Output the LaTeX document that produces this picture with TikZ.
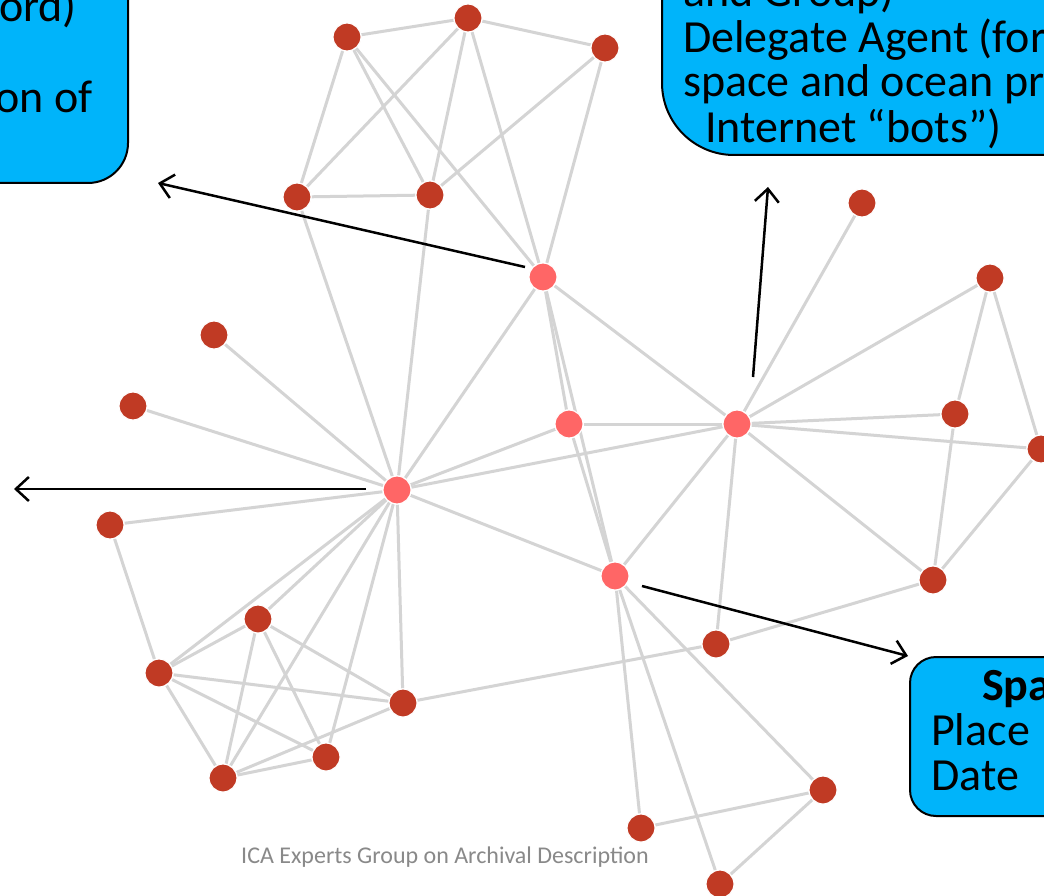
\documentclass[tikz,border=0pt]{standalone}
\usepackage{fontspec}
\setmainfont{Carlito}
\usetikzlibrary{arrows.meta}
\definecolor{nodedark}{RGB}{192,58,36}
\definecolor{nodelight}{RGB}{255,102,102}
\definecolor{edgegray}{RGB}{212,212,212}
\definecolor{boxblue}{RGB}{0,180,250}
\definecolor{footgray}{RGB}{137,137,137}
\tikzset{
  dk/.style={circle, fill=nodedark, draw=white, line width=1.2pt, minimum size=28pt, inner sep=0pt},
  lt/.style={circle, fill=nodelight, draw=white, line width=1.2pt, minimum size=28pt, inner sep=0pt},
  edge/.style={draw=edgegray, line width=3pt},
  pointer/.style={draw=black, line width=2.5pt, -{Straight Barb[length=13pt,width=24pt,line width=2.5pt]}},
  bluebox/.style={fill=boxblue, draw=black, line width=2pt},
  boxtext/.style={font=\fontsize{46}{48}\selectfont, inner sep=0pt},
}
\begin{document}
\begin{tikzpicture}[x=1pt,y=-1pt]
\useasboundingbox (0,0) rectangle (1044,896);
\clip (0,0) rectangle (1044,896);
\fill[white] (0,0) rectangle (1044,896);

% nodes
\node[dk] (A1) at (347,37) {};
\node[dk] (A2) at (468,18) {};
\node[dk] (A3) at (605,48) {};
\node[dk] (A4) at (297,197) {};
\node[dk] (A5) at (430,195) {};
\node[dk] (D1) at (862,203) {};
\node[dk] (D2) at (990,278) {};
\node[dk] (D3) at (955,414) {};
\node[dk] (D4) at (1041,449) {};
\node[dk] (D5) at (933,580) {};
\node[dk] (D6) at (716,644) {};
\node[dk] (L1) at (214,335) {};
\node[dk] (L2) at (133,406) {};
\node[dk] (L3) at (110,525) {};
\node[dk] (B1) at (258,619) {};
\node[dk] (B2) at (159,673) {};
\node[dk] (B3) at (403,703) {};
\node[dk] (B4) at (326,757) {};
\node[dk] (B5) at (223,778) {};
\node[dk] (S1) at (641,828) {};
\node[dk] (S2) at (823,790) {};
\node[dk] (S3) at (720,884) {};
\node[lt] (H1) at (543,277) {};
\node[lt] (H2) at (569,424) {};
\node[lt] (H3) at (737,424) {};
\node[lt] (H4) at (397,490) {};
\node[lt] (H5) at (615,576) {};

% edges
\foreach \a/\b in {A1/A2,A2/A3,A1/A4,A1/A5,A1/H1,A2/A4,A2/A5,A2/H1,A3/A5,A3/H1,A4/A5,A4/H4,A5/H4,
  H1/H4,H1/H2,H1/H5,H1/H3,H2/H5,H2/H3,H2/H4,H3/H4,H3/H5,H4/H5,
  H3/D1,H3/D2,H3/D3,H3/D4,H3/D5,H3/D6,D2/D3,D2/D4,D3/D5,D4/D5,D5/D6,D6/B3,
  H5/S1,H5/S2,H5/S3,S1/S2,S2/S3,
  H4/L1,H4/L2,H4/L3,L3/B2,
  H4/B1,H4/B2,H4/B3,H4/B4,H4/B5,
  B1/B2,B1/B3,B1/B4,B1/B5,B2/B3,B2/B4,B2/B5,B3/B5,B4/B5}
  \draw[edge] (\a) -- (\b);

% redraw nodes on top of edges
\foreach \n/\s/\x/\y in {A1/dk/347/37,A2/dk/468/18,A3/dk/605/48,A4/dk/297/197,A5/dk/430/195,
  D1/dk/862/203,D2/dk/990/278,D3/dk/955/414,D4/dk/1041/449,D5/dk/933/580,D6/dk/716/644,
  L1/dk/214/335,L2/dk/133/406,L3/dk/110/525,B1/dk/258/619,B2/dk/159/673,B3/dk/403/703,
  B4/dk/326/757,B5/dk/223/778,S1/dk/641/828,S2/dk/823/790,S3/dk/720/884,
  H1/lt/543/277,H2/lt/569/424,H3/lt/737/424,H4/lt/397/490,H5/lt/615/576}
  \node[\s] at (\x,\y) {};

% boxes
\draw[bluebox, rounded corners=40pt] (-150,-150) rectangle (128,183);
\draw[bluebox, rounded corners=72pt] (662,-300) rectangle (1200,155);
\draw[bluebox, rounded corners=26pt] (910,657) rectangle (1200,816);

\node[boxtext, anchor=base east] (t1a) at (77,22) {ord)};
\node[boxtext, anchor=base east] (t1b) at (93,113) {on of};

\node[boxtext, anchor=base west] (t2a) at (683,7) {and Group)};
\node[boxtext, anchor=base west] (t2b) at (683,53) {Delegate Agent (for};
\node[boxtext, anchor=base west] (t2c) at (683,97) {space and ocean pr};
\node[boxtext, anchor=base west] (t2d) at (705,143) {Internet “bots”)};

\node[boxtext, anchor=base west, font=\fontsize{46}{48}\selectfont\bfseries] (t3a) at (982,700) {Spa};
\node[boxtext, anchor=base west] (t3b) at (931,745) {Place};
\node[boxtext, anchor=base west] (t3c) at (931,790) {Date};

% arrows
\coordinate (p1s) at (525,267);
\coordinate (p1e) at (158,183);
\coordinate (p2s) at (366,489);
\coordinate (p2e) at (14,489);
\coordinate (p3s) at (753,377);
\coordinate (p3e) at (768,187);
\coordinate (p4s) at (642,586);
\coordinate (p4e) at (908,656);
\draw[pointer] (p1s) -- (p1e);
\draw[pointer] (p2s) -- (p2e);
\draw[pointer] (p3s) -- (p3e);
\draw[pointer] (p4s) -- (p4e);

% footer
\node[anchor=base west, text=footgray, font=\fontsize{24}{26}\selectfont, inner sep=0pt] (foot) at (241,863) {ICA Experts Group on Archival Description};
\end{tikzpicture}
\end{document}
